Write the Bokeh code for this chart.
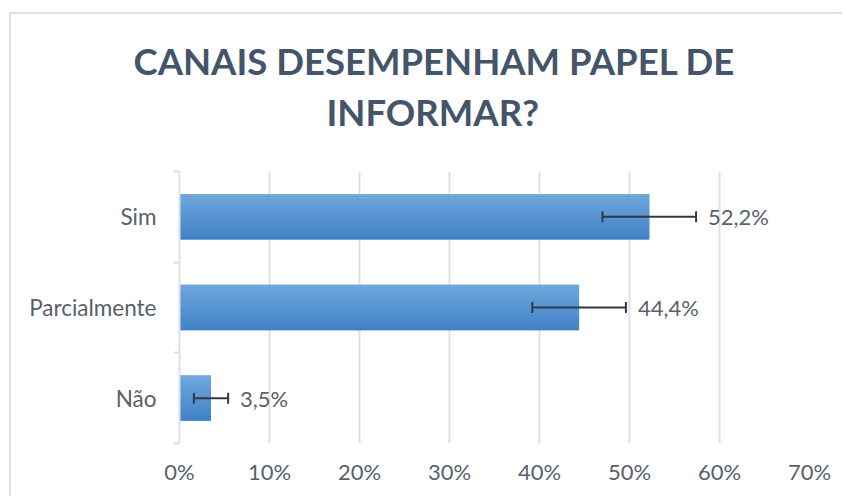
import numpy as np
from bokeh.plotting import figure
from bokeh.models import (ColumnDataSource, FixedTicker, Whisker, TeeHead,
                          LabelSet, Title, Range1d)
from bokeh.embed import file_html
from bokeh.resources import INLINE
from bokeh.core.properties import value

# ---------------- data ----------------
title_lines = ["CANAIS DESEMPENHAM PAPEL DE", "INFORMAR?"]
categories = ["Sim", "Parcialmente", "Não"]
percentages = [52.2, 44.4, 3.5]
error_margins = [5.2, 5.2, 1.9]
tick_values = [0, 10, 20, 30, 40, 50, 60, 70]
tick_labels = ["0%", "10%", "20%", "30%", "40%", "50%", "60%", "70%"]

# ---------------- styles ----------------
FONT = "Lato"
TEXT_COLOR = "#595F6B"
TITLE_COLOR = "#44546A"
GRID_COLOR = "#DCE1E8"
ERR_COLOR = "#2E3A4A"
BAR_TOP = np.array([0x72, 0xA9, 0xDE])
BAR_BOTTOM = np.array([0x3F, 0x80, 0xC6])

n = len(categories)
ypos = [n - 1 - i + 0.5 for i in range(n)]
lower = [v - e for v, e in zip(percentages, error_margins)]
upper = [v + e for v, e in zip(percentages, error_margins)]
value_labels = [("%.1f" % v).replace(".", ",") + "%" for v in percentages]

src = ColumnDataSource(dict(y=ypos, val=percentages, lo=lower, hi=upper,
                            lab=value_labels, cat=categories))

p = figure(width=833, height=484,
           x_range=Range1d(tick_values[0], tick_values[-1]),
           y_range=Range1d(0, n),
           output_backend="svg", toolbar_location=None,
           min_border_left=168, min_border_right=35,
           min_border_top=157, min_border_bottom=55)
p.styles = {"margin-left": "9px", "margin-top": "12px",
            "border-top": "2px solid " + GRID_COLOR,
            "border-left": "2px solid " + GRID_COLOR}
p.background_fill_color = "white"
p.border_fill_color = "white"
p.outline_line_color = None

# ---------------- title (two centred lines; the first added sits nearest the plot) ----------------
title_style = dict(align="left", text_font=FONT, text_font_size="36.5px",
                   text_font_style="bold", text_color=TITLE_COLOR)
t_second = Title(text=title_lines[1], offset=147, standoff=10,
                 padding=dict(left=0, right=0, top=0, bottom=33), **title_style)
t_first = Title(text=title_lines[0], offset=-46, standoff=0, **title_style)
p.add_layout(t_second, "above")
p.add_layout(t_first, "above")

# ---------------- bars with vertical gradient ----------------
bar_h = 0.5
mid = (BAR_TOP + BAR_BOTTOM) / 2
p.hbar(y="y", right="val", left=0, height=bar_h, source=src,
       fill_color="#%02x%02x%02x" % tuple(int(c) for c in mid), line_color=None)
n_strips = 18
for k in range(n_strips):
    frac = (k + 0.5) / n_strips
    c = BAR_TOP * (1 - frac) + BAR_BOTTOM * frac
    col = "#%02x%02x%02x" % tuple(int(round(x)) for x in c)
    off = bar_h / 2 - (k + 0.5) * bar_h / n_strips
    p.hbar(y=[y + off for y in ypos], right=percentages, left=0,
           height=bar_h / n_strips, fill_color=col, line_color=None)

# ---------------- error bars ----------------
whisker = Whisker(source=src, base="y", lower="lo", upper="hi", dimension="width",
                  line_color=ERR_COLOR, line_width=2, level="overlay",
                  lower_head=TeeHead(size=11, line_color=ERR_COLOR, line_width=2),
                  upper_head=TeeHead(size=11, line_color=ERR_COLOR, line_width=2))
p.add_layout(whisker)

# ---------------- value labels ----------------
labels = LabelSet(x="hi", y="y", text="lab", source=src, x_offset=12,
                  text_baseline="middle", text_align="left",
                  text_font=value(FONT), text_font_size="22px",
                  text_color=TEXT_COLOR)
p.add_layout(labels)

# ---------------- axes ----------------
p.xaxis.ticker = FixedTicker(ticks=tick_values)
p.xaxis.major_label_overrides = {t: l for t, l in zip(tick_values, tick_labels)}
p.xaxis.axis_line_color = None
p.xaxis.major_tick_line_color = None
p.xaxis.minor_tick_line_color = None
p.xaxis.major_label_standoff = 8
p.xaxis.major_label_text_font = FONT
p.xaxis.major_label_text_font_size = "22px"
p.xaxis.major_label_text_color = TEXT_COLOR

p.yaxis.ticker = FixedTicker(ticks=ypos, minor_ticks=list(range(n + 1)))
p.yaxis.major_label_overrides = {y: c for y, c in zip(ypos, categories)}
p.yaxis.axis_line_color = GRID_COLOR
p.yaxis.axis_line_width = 2
p.yaxis.major_tick_line_color = None
p.yaxis.minor_tick_line_color = GRID_COLOR
p.yaxis.minor_tick_line_width = 2
p.yaxis.minor_tick_out = 6
p.yaxis.minor_tick_in = 0
p.yaxis.major_label_standoff = 17
p.yaxis.major_label_text_font = FONT
p.yaxis.major_label_text_font_size = "22.5px"
p.yaxis.major_label_text_color = TEXT_COLOR

p.xgrid.grid_line_color = GRID_COLOR
p.xgrid.grid_line_width = 2
p.ygrid.grid_line_color = None

open("out.html", "w").write(file_html(p, INLINE))
